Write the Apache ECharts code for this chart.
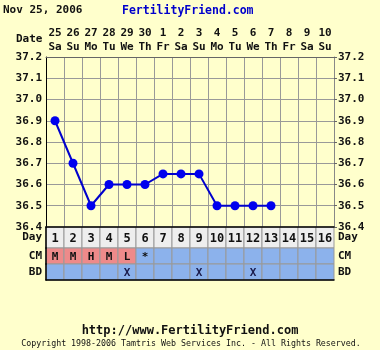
<!DOCTYPE html>
<html><head><meta charset="utf-8">
<script src="https://cdn.jsdelivr.net/npm/echarts@6/dist/echarts.min.js"></script>
<style>html,body{margin:0;padding:0;background:#FFFFCC}#c{width:380px;height:350px}</style>
</head><body><div id="c"></div>
<script>
const dates = ['25','26','27','28','29','30','1','2','3','4','5','6','7','8','9','10'];
const weekdays = ['Sa','Su','Mo','Tu','We','Th','Fr','Sa','Su','Mo','Tu','We','Th','Fr','Sa','Su'];
const days = ['1','2','3','4','5','6','7','8','9','10','11','12','13','14','15','16'];
const temps = [36.9,36.7,36.5,36.6,36.6,36.6,36.65,36.65,36.65,36.5,36.5,36.5,36.5,null,null,null];
const cm = ['M','M','H','M','L','*','','','','','','','','','',''];
const bd = ['','','','','X','','','','X','','','X','','','',''];
const rowLabels = ['Day','CM','BD'];
const headerDate = 'Nov 25, 2006';
const siteName = 'FertilityFriend.com';
const footerUrl = 'http://www.FertilityFriend.com';
const copyright = 'Copyright 1998-2006 Tamtris Web Services Inc. - All Rights Reserved.';

const F = 'DejaVu Sans Mono';
const chart = echarts.init(document.getElementById('c'), null, {renderer:'canvas'});

function cellFill(row, t){
  if (row === 0) return '#EEEEEE';
  if (row === 1 && (t === 'M' || t === 'H' || t === 'L')) return '#EE8A8A';
  return '#8CB2EC';
}
function makeRender(row, texts){
  return function(params, api){
    const i = api.value(0);
    const cx = api.coord([i, 0])[0];
    const w = api.size([1, 0])[0];
    const cs = params.coordSys;
    const t = texts[i];
    return {type:'group', children:[
      {type:'rect', shape:{x:cx - w/2, y:cs.y, width:w, height:cs.height},
       style:{fill:cellFill(row, t), stroke:'#999999', lineWidth:1}},
      {type:'text', x:cx, y:cs.y + cs.height/2 + 1,
       style:{text:t, fill:row===2 ? '#1a1a4a' : '#111111', font:'bold ' + (row===0?12:11) + 'px ' + F,
              align:'center', verticalAlign:'middle'}}
    ]};
  };
}
const tableTexts = [days, cm, bd];
const gridTops = [227, 248, 264];
const gridHeights = [21, 16, 16];

const grids = [{left:46, right:46, top:57, height:170}];
const xAxes = [{
  gridIndex:0, type:'category', data:dates, position:'top', boundaryGap:true,
  axisLine:{show:true, lineStyle:{color:'#666666', width:1}},
  axisTick:{show:false},
  axisLabel:{formatter:(v,i)=> v + '\n' + weekdays[i], margin:3, lineHeight:14,
    color:'#111', fontFamily:F, fontWeight:'bold', fontSize:11, interval:0},
  splitLine:{show:true, lineStyle:{color:'#999999', width:1}}
}];
const yBase = {type:'value', min:36.4, max:37.2, interval:0.1,
  axisLabel:{formatter:v=>v.toFixed(1), margin:4, color:'#111', fontFamily:F, fontWeight:'bold', fontSize:11},
  splitLine:{show:true, lineStyle:{color:'#999999', width:1}}};
const yAxes = [
  Object.assign({}, yBase, {gridIndex:0, position:'left', axisLine:{show:true, lineStyle:{color:'#000', width:1}}, axisTick:{show:false}}),
  Object.assign({}, yBase, {gridIndex:0, position:'right', axisLine:{show:true, lineStyle:{color:'#888', width:1}}, axisTick:{show:true, length:3, lineStyle:{color:'#666'}}})
];
const series = [{
  type:'line', xAxisIndex:0, yAxisIndex:0, data:temps, connectNulls:false,
  symbol:'circle', symbolSize:9, itemStyle:{color:'#0000EE'}, lineStyle:{color:'#0000CC', width:2},
  z:5, animation:false
}];
for (let r = 0; r < 3; r++){
  const gi = r + 1;
  grids.push({left:46, right:46, top:gridTops[r], height:gridHeights[r]});
  xAxes.push({gridIndex:gi, type:'category', data:days, boundaryGap:true,
    position: r === 2 ? 'bottom' : 'top', show: r !== 1, z:10,
    axisLine:{show:true, lineStyle:{color:'#000', width:1.5}}, axisTick:{show:false}, axisLabel:{show:false}, splitLine:{show:false}});
  const lab = {color:'#111', fontFamily:F, fontWeight:'bold', fontSize:11, margin:4};
  yAxes.push({gridIndex:gi, type:'category', data:[rowLabels[r]], position:'left', z:10,
    axisLine:{show:true, lineStyle:{color:'#000', width:1.5}}, axisTick:{show:false}, axisLabel:lab});
  yAxes.push({gridIndex:gi, type:'category', data:[rowLabels[r]], position:'right',
    axisLine:{show:false}, axisTick:{show:false}, axisLabel:lab});
  series.push({type:'custom', xAxisIndex:gi, yAxisIndex:2 + r*2, z:1,
    data: tableTexts[r].map((t, i) => [i, 0]),
    renderItem: makeRender(r, tableTexts[r]), animation:false, silent:true});
}

chart.setOption({
  backgroundColor:'#FFFFCC',
  animation:false,
  grid:grids, xAxis:xAxes, yAxis:yAxes, series:series,
  graphic:[
    {type:'text', left:3, top:5, style:{text:headerDate, fill:'#111', font:'bold 11px ' + F}},
    {type:'text', left:122, top:5, style:{text:siteName, fill:'#0000CC', font:'bold 11.5px ' + F}},
    {type:'text', left:16, top:34, style:{text:'Date', fill:'#111', font:'bold 11px ' + F}},
    {type:'text', x:190, y:331, style:{text:footerUrl, fill:'#111', font:'bold 12px ' + F, align:'center', verticalAlign:'middle'}},
    {type:'text', x:191, y:344, style:{text:copyright, fill:'#111', font:'8.3px ' + F, align:'center', verticalAlign:'middle'}}
  ]
});
</script></body></html>
